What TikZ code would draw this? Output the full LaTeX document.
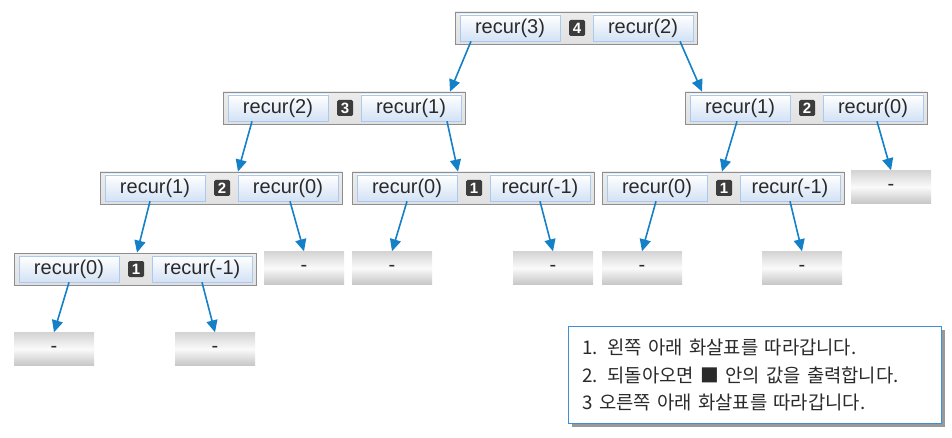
\documentclass[tikz,border=0pt]{standalone}
\usepackage{fontspec}
\setmainfont{Liberation Sans}
\newfontfamily\kr{Noto Sans CJK KR}
\usetikzlibrary{arrows.meta,shadows}
\definecolor{framegray}{HTML}{8E8E8E}
\definecolor{framefill}{HTML}{E0E0E0}
\definecolor{callborder}{HTML}{A9C9EE}
\definecolor{callfill}{HTML}{D3E2F5}
\definecolor{numgray}{HTML}{3C3C3C}
\definecolor{textgray}{HTML}{2A2A2A}
\definecolor{dashtop}{HTML}{D4D4D4}
\definecolor{dashmid}{HTML}{FAFAFA}
\definecolor{dashbot}{HTML}{C6C6C6}
\definecolor{arrowblue}{HTML}{1480C8}
\definecolor{legendblue}{HTML}{3D8FD6}

\begin{document}
\begin{tikzpicture}[x=1pt,y=-1pt,
  frame/.style={draw=framegray,line width=0.8pt,top color=framefill!60!white,bottom color=framefill,minimum width=242pt,minimum height=32pt,inner sep=0pt},
  callbox/.style={draw=callborder,line width=0.6pt,top color=white,bottom color=callfill,minimum width=100pt,minimum height=26pt,inner sep=0pt,text=textgray,font=\fontsize{20}{20}\selectfont},
  numbox/.style={fill=numgray,text=white,minimum size=16pt,inner sep=0pt,rounded corners=1.5pt,font=\bfseries\fontsize{15}{15}\selectfont},
  dashbox/.style={top color=dashtop,bottom color=dashbot,middle color=dashmid,minimum width=80pt,minimum height=33pt,inner sep=0pt,text=textgray,font=\fontsize{20}{20}\selectfont},
  callarrow/.style={draw=arrowblue,line width=1.6pt,-{Triangle[length=12pt,width=11pt]}},
  legendbox/.style={draw=legendblue,line width=1.2pt,fill=white,drop shadow={shadow xshift=3.5pt,shadow yshift=-3.5pt,fill=black!40,opacity=1},minimum width=373pt,minimum height=97pt,text width=345pt,inner xsep=14pt,align=left,text=textgray,font=\kr\fontsize{18.8}{27.5}\selectfont}]

\useasboundingbox (0,0) rectangle (952,438);

\node[frame] (f1) at (576,28) {};
\node[callbox] (l1) at ([xshift=-66pt]f1.center) {recur(3)};
\node[numbox] (n1) at ([xshift=1pt]f1.center) {4};
\node[callbox] (r1) at ([xshift=67pt]f1.center) {recur(2)};

\node[frame] (f2) at (344,108) {};
\node[callbox] (l2) at ([xshift=-66pt]f2.center) {recur(2)};
\node[numbox] (n2) at ([xshift=1pt]f2.center) {3};
\node[callbox] (r2) at ([xshift=67pt]f2.center) {recur(1)};

\node[frame] (f3) at (806,108) {};
\node[callbox] (l3) at ([xshift=-66pt]f3.center) {recur(1)};
\node[numbox] (n3) at ([xshift=1pt]f3.center) {2};
\node[callbox] (r3) at ([xshift=67pt]f3.center) {recur(0)};

\node[frame] (f4) at (221,188) {};
\node[callbox] (l4) at ([xshift=-66pt]f4.center) {recur(1)};
\node[numbox] (n4) at ([xshift=1pt]f4.center) {2};
\node[callbox] (r4) at ([xshift=67pt]f4.center) {recur(0)};

\node[frame] (f5) at (473,188) {};
\node[callbox] (l5) at ([xshift=-66pt]f5.center) {recur(0)};
\node[numbox] (n5) at ([xshift=1pt]f5.center) {1};
\node[callbox] (r5) at ([xshift=67pt]f5.center) {recur(-1)};

\node[frame] (f6) at (723,188) {};
\node[callbox] (l6) at ([xshift=-66pt]f6.center) {recur(0)};
\node[numbox] (n6) at ([xshift=1pt]f6.center) {1};
\node[callbox] (r6) at ([xshift=67pt]f6.center) {recur(-1)};

\node[frame] (f7) at (135,269) {};
\node[callbox] (l7) at ([xshift=-66pt]f7.center) {recur(0)};
\node[numbox] (n7) at ([xshift=1pt]f7.center) {1};
\node[callbox] (r7) at ([xshift=67pt]f7.center) {recur(-1)};

\node[dashbox] (d1) at (891,187) {-};
\node[dashbox] (d2) at (304,268) {-};
\node[dashbox] (d3) at (392,268) {-};
\node[dashbox] (d4) at (553,268) {-};
\node[dashbox] (d5) at (642,268) {-};
\node[dashbox] (d6) at (802,268) {-};
\node[dashbox] (d7) at (54,349) {-};
\node[dashbox] (d8) at (215,349) {-};

\draw[callarrow] ([xshift=-39pt]l1.south) -- ([xshift=106pt]f2.north);
\draw[callarrow] ([xshift=37pt]r1.south) -- ([xshift=-104pt]f3.north);
\draw[callarrow] ([xshift=-26pt]l2.south) -- ([xshift=17pt]f4.north);
\draw[callarrow] ([xshift=36pt]r2.south) -- ([xshift=-15pt]f5.north);
\draw[callarrow] ([xshift=-3pt]l3.south) -- ([xshift=-1pt]f6.north);
\draw[callarrow] ([xshift=4pt]r3.south) -- (d1.north);
\draw[callarrow] ([xshift=-5pt]l4.south) -- ([xshift=2pt]f7.north);
\draw[callarrow] ([xshift=2pt]r4.south) -- (d2.north);
\draw[callarrow] (l5.south) -- (d3.north);
\draw[callarrow] (r5.south) -- (d4.north);
\draw[callarrow] ([xshift=-1pt]l6.south) -- (d5.north);
\draw[callarrow] (r6.south) -- (d6.north);
\draw[callarrow] (l7.south) -- (d7.north);
\draw[callarrow] (r7.south) -- (d8.north);

\node[legendbox] (legend) at (755,375) {1. 왼쪽 아래 화살표를 따라갑니다.\\2. 되돌아오면 ■ 안의 값을 출력합니다.\\3 오른쪽 아래 화살표를 따라갑니다.};
\end{tikzpicture}
\end{document}
